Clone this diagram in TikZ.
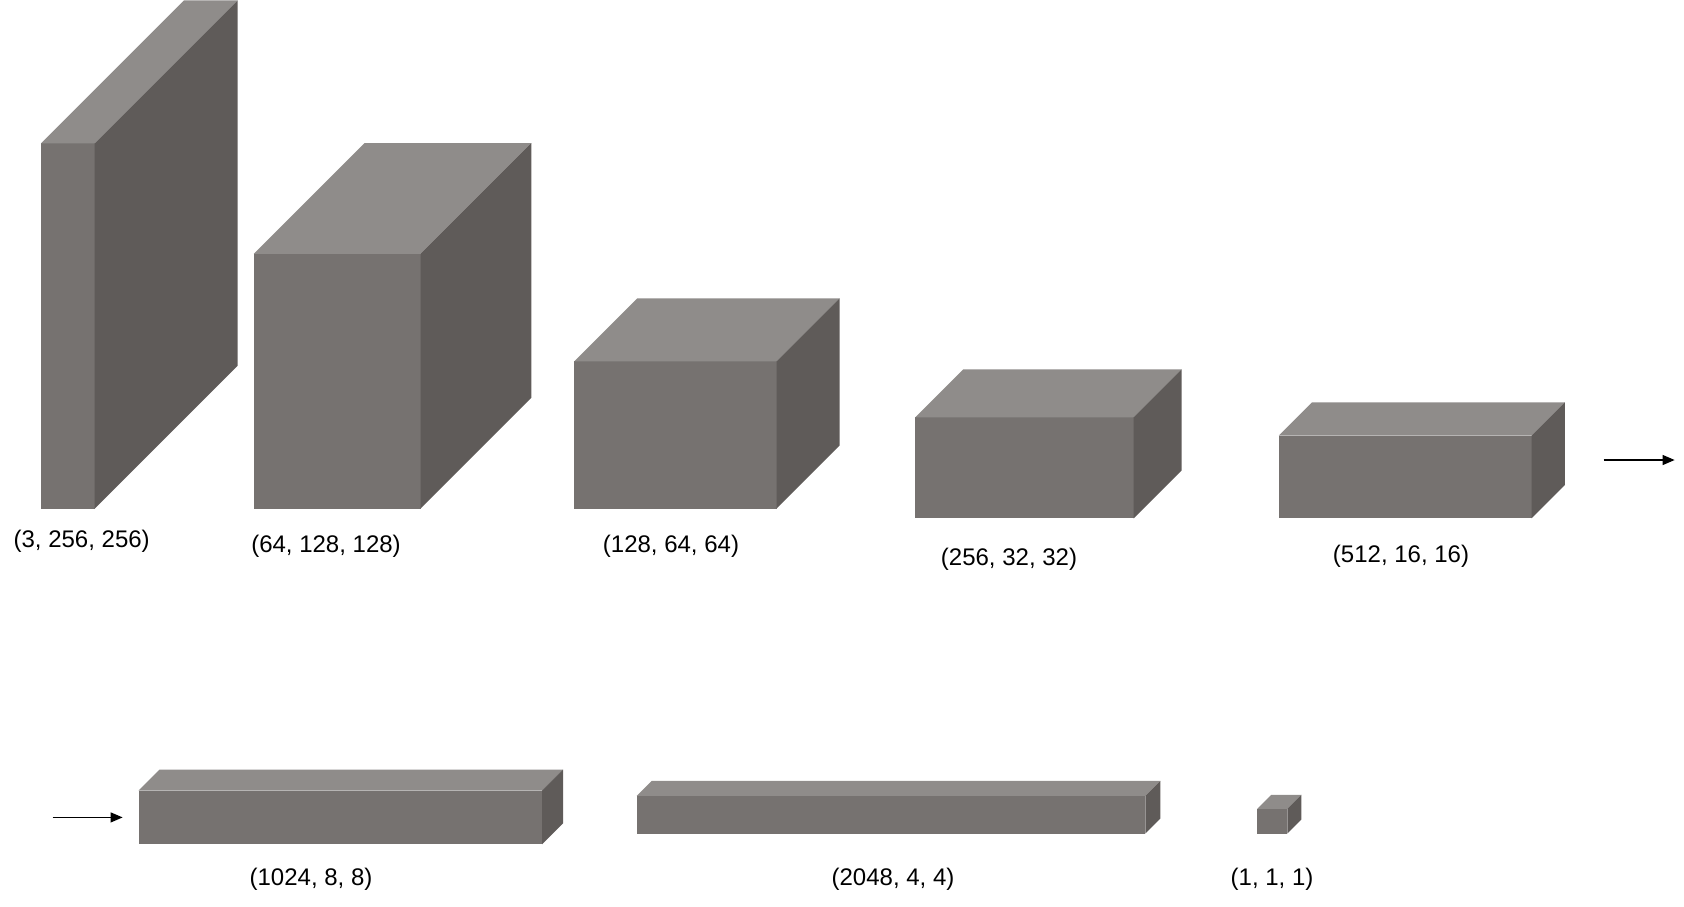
\documentclass[tikz,border=0pt]{standalone}
\usepackage{fontspec}
\setmainfont{Liberation Sans}
\usepackage{tikz}
\usetikzlibrary{arrows.meta}
\definecolor{frontgray}{HTML}{767270}
\definecolor{topgray}{HTML}{8F8C8A}
\definecolor{sidegray}{HTML}{5F5B59}

% feature map block: name, left, top, right, bottom, depth (pixels)
\newcommand{\featmap}[6]{%
  \fill[frontgray] (#2,#3) rectangle (#4,#5);
  \fill[topgray] (#2,#3) -- ++(#6,-#6) -- ++(#4-#2,0) -- (#4,#3) -- cycle;
  \fill[sidegray] (#4,#3) -- ++(#6,-#6) -- ++(0,#5-#3) -- (#4,#5) -- cycle;
  \coordinate (#1) at (#2,#3);
}

\begin{document}
\begin{tikzpicture}[x=0.5pt, y=-0.5pt,
    dimlabel/.style={font=\fontsize{12}{14}\selectfont, inner sep=0pt},
    flow/.style={-{Triangle[length=6pt, width=5pt]}, line width=0.6pt}]
  \useasboundingbox (0,0) rectangle (1684,906);

  % first row
  \featmap{m1}{41}{143.4}{94.6}{508.7}{143}
  \featmap{m2}{253.8}{253.8}{420.5}{508.7}{110.8}
  \featmap{m3}{574.3}{361.4}{776.5}{508.7}{63}
  \featmap{m4}{915.3}{417.3}{1133.6}{518.4}{48}
  \featmap{m5}{1278.8}{435.6}{1531.5}{518.4}{33.3}

  \node[dimlabel] (l1) at (81.7,541) {(3, 256, 256)};
  \node[dimlabel] (l2) at (326,546) {(64, 128, 128)};
  \node[dimlabel] (l3) at (671,546) {(128, 64, 64)};
  \node[dimlabel] (l4) at (1009,559) {(256, 32, 32)};
  \node[dimlabel] (l5) at (1401,556) {(512, 16, 16)};

  \coordinate (outa) at (1603.6,460);
  \coordinate (outb) at (1674.6,460);
  \draw[flow] (outa) -- (outb);

  % second row
  \coordinate (ina) at (52.7,817.4);
  \coordinate (inb) at (122.6,817.4);
  \draw[flow] (ina) -- (inb);

  \featmap{m6}{138.7}{790.5}{542}{844.3}{21}
  \featmap{m7}{636.7}{795.9}{1145.4}{833.5}{15}
  \featmap{m8}{1257.3}{808.8}{1287.4}{833.5}{14}

  \node[dimlabel] (l6) at (311,879) {(1024, 8, 8)};
  \node[dimlabel] (l7) at (893,879) {(2048, 4, 4)};
  \node[dimlabel] (l8) at (1272,879) {(1, 1, 1)};
\end{tikzpicture}
\end{document}
